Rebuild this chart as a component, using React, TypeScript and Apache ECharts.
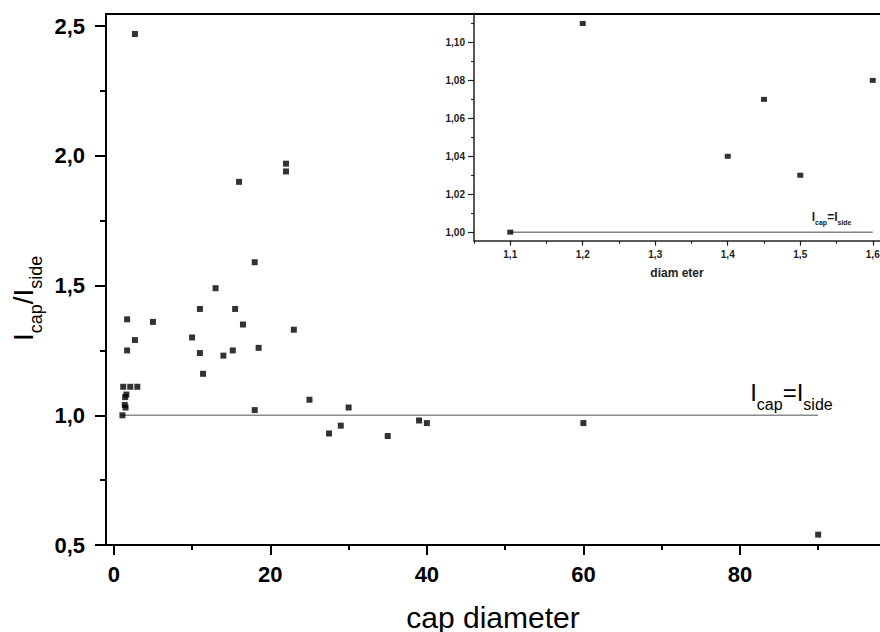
import React, { useEffect, useRef } from 'react';
import * as echarts from 'echarts';

// ---- data ----
// small caps (also shown in the inset)
const smallDiameter = [1.1, 1.2, 1.4, 1.45, 1.5, 1.6];
const smallRatio = [1.0, 1.11, 1.04, 1.07, 1.03, 1.08];
// remaining caps
const largeDiameter = [2.1, 3, 1.7, 1.7, 2.7, 2.7, 5, 10, 11, 11, 11.4, 13, 14, 15.2, 15.5, 16, 16.5, 18, 18, 18.5, 22, 22, 23, 25, 27.5, 29, 30, 35, 39, 40, 60, 90];
const largeRatio = [1.11, 1.11, 1.37, 1.25, 1.29, 2.47, 1.36, 1.3, 1.41, 1.24, 1.16, 1.49, 1.23, 1.25, 1.41, 1.9, 1.35, 1.59, 1.02, 1.26, 1.97, 1.94, 1.33, 1.06, 0.93, 0.96, 1.03, 0.92, 0.98, 0.97, 0.97, 0.54];

// reference line Icap = Iside
const equalLineX = [1, 90];
const equalLineY = [1, 1];
const insetEqualLineX = [1.1, 1.6];
const insetEqualLineY = [1, 1];

// ticks
const mainXMajor = [0, 20, 40, 60, 80];
const mainXMinor = [10, 30, 50, 70, 90];
const mainYMajor = [0.5, 1.0, 1.5, 2.0, 2.5];
const mainYMinor = [0.75, 1.25, 1.75, 2.25];
const insetXMajor = [1.1, 1.2, 1.3, 1.4, 1.5, 1.6];
const insetXMinor = [1.05, 1.15, 1.25, 1.35, 1.45, 1.55];
const insetYMajor = [1.0, 1.02, 1.04, 1.06, 1.08, 1.1];
const insetYMinor = [1.01, 1.03, 1.05, 1.07, 1.09, 1.11];

const FONT = '"Liberation Sans", Arial, Helvetica, sans-serif';

export default function App() {
  const ref = useRef<HTMLDivElement>(null);
  useEffect(() => {
    document.body.style.margin = '0';
    const chart = echarts.init(ref.current!, null, { renderer: 'svg' });
    const comma = (d: number) => (v: number) => Number(v).toFixed(d).replace('.', ',');

    const mainRange = { x: [-1, 97.9], y: [0.5, 2.547] };
    const insetRange = { x: [1.05, 1.61], y: [0.9955, 1.115] };

    const hiddenLine = { show: false, onZero: false };
    const noLabel = { show: false };

    chart.setOption({
      animation: false,
      backgroundColor: '#fff',
      grid: [
        { left: 106, top: 14, right: 0, bottom: 87, containLabel: false, outerBoundsMode: 'none' },
        { left: 474, top: 14, right: 0, bottom: 391.3, containLabel: false, outerBoundsMode: 'none' },
      ],
      xAxis: [
        {
          gridIndex: 0, type: 'value', position: 'bottom', min: mainRange.x[0], max: mainRange.x[1],
          axisLine: { show: true, onZero: false, lineStyle: { color: '#000', width: 2 } },
          axisTick: { show: true, customValues: mainXMajor, length: 10, lineStyle: { color: '#000', width: 2 } },
          axisLabel: { customValues: mainXMajor, fontSize: 22, fontWeight: 'bold', fontFamily: FONT, color: '#000', margin: 18 },
          splitLine: { show: false },
          name: 'cap diameter', nameLocation: 'middle', nameGap: 57,
          nameTextStyle: { fontSize: 30, fontFamily: FONT, color: '#000' },
        },
        {
          gridIndex: 0, type: 'value', position: 'bottom', min: mainRange.x[0], max: mainRange.x[1],
          axisLine: hiddenLine,
          axisTick: { show: true, customValues: mainXMinor, length: 5, lineStyle: { color: '#000', width: 2 } },
          axisLabel: noLabel, splitLine: { show: false },
        },
        {
          gridIndex: 0, type: 'value', position: 'top', min: mainRange.x[0], max: mainRange.x[1],
          axisLine: { show: true, onZero: false, lineStyle: { color: '#000', width: 2 } },
          axisTick: { show: false }, axisLabel: noLabel, splitLine: { show: false },
        },
        {
          gridIndex: 1, type: 'value', position: 'bottom', min: insetRange.x[0], max: insetRange.x[1],
          axisLine: { show: true, onZero: false, lineStyle: { color: '#222', width: 1.5 } },
          axisTick: { show: true, customValues: insetXMajor, length: 5, lineStyle: { color: '#222', width: 1.2 } },
          axisLabel: { customValues: insetXMajor, formatter: comma(1), fontSize: 10, fontWeight: 'bold', fontFamily: FONT, color: '#222', margin: 9 },
          splitLine: { show: false },
          name: 'diam eter', nameLocation: 'middle', nameGap: 26,
          nameTextStyle: { fontSize: 12, fontWeight: 'bold', fontFamily: FONT, color: '#222' },
        },
        {
          gridIndex: 1, type: 'value', position: 'bottom', min: insetRange.x[0], max: insetRange.x[1],
          axisLine: hiddenLine,
          axisTick: { show: true, customValues: insetXMinor, length: 3, lineStyle: { color: '#222', width: 1.2 } },
          axisLabel: noLabel, splitLine: { show: false },
        },
      ],
      yAxis: [
        {
          gridIndex: 0, type: 'value', position: 'left', min: mainRange.y[0], max: mainRange.y[1],
          axisLine: { show: true, onZero: false, lineStyle: { color: '#000', width: 2 } },
          axisTick: { show: true, customValues: mainYMajor, length: 11, lineStyle: { color: '#000', width: 2 } },
          axisLabel: { customValues: mainYMajor, formatter: comma(1), fontSize: 22, fontWeight: 'bold', fontFamily: FONT, color: '#000', margin: 21 },
          splitLine: { show: false },
        },
        {
          gridIndex: 0, type: 'value', position: 'left', min: mainRange.y[0], max: mainRange.y[1],
          axisLine: hiddenLine,
          axisTick: { show: true, customValues: mainYMinor, length: 6, lineStyle: { color: '#000', width: 2 } },
          axisLabel: noLabel, splitLine: { show: false },
        },
        {
          gridIndex: 1, type: 'value', position: 'left', min: insetRange.y[0], max: insetRange.y[1],
          axisLine: { show: true, onZero: false, lineStyle: { color: '#222', width: 1.5 } },
          axisTick: { show: true, customValues: insetYMajor, length: 6, lineStyle: { color: '#222', width: 1.2 } },
          axisLabel: { customValues: insetYMajor, formatter: comma(2), fontSize: 10, fontWeight: 'bold', fontFamily: FONT, color: '#222', margin: 9 },
          splitLine: { show: false },
        },
        {
          gridIndex: 1, type: 'value', position: 'left', min: insetRange.y[0], max: insetRange.y[1],
          axisLine: hiddenLine,
          axisTick: { show: true, customValues: insetYMinor, length: 3, lineStyle: { color: '#222', width: 1.2 } },
          axisLabel: noLabel, splitLine: { show: false },
        },
      ],
      series: [
        {
          type: 'line', xAxisIndex: 0, yAxisIndex: 0, symbol: 'none', silent: true,
          data: equalLineX.map((x, i) => [x, equalLineY[i]]),
          lineStyle: { color: '#8a8a8a', width: 1.5 }, z: 1,
        },
        {
          type: 'scatter', xAxisIndex: 0, yAxisIndex: 0, symbol: 'rect', symbolSize: 6,
          itemStyle: { color: '#000' }, z: 3,
          data: smallDiameter.concat(largeDiameter).map((x, i) => [x, smallRatio.concat(largeRatio)[i]]),
        },
        {
          type: 'line', xAxisIndex: 3, yAxisIndex: 2, symbol: 'none', silent: true,
          data: insetEqualLineX.map((x, i) => [x, insetEqualLineY[i]]),
          lineStyle: { color: '#444', width: 1 }, z: 1,
        },
        {
          type: 'scatter', xAxisIndex: 3, yAxisIndex: 2, symbol: 'rect', symbolSize: [6, 5],
          itemStyle: { color: '#000' }, z: 3,
          data: smallDiameter.map((x, i) => [x, smallRatio[i]]),
        },
      ],
    });

    // text with subscripts, built from measured pieces
    const ctx = document.createElement('canvas').getContext('2d')!;
    const measure = (t: string, size: number, weight: string) => {
      ctx.font = `${weight} ${size}px "Liberation Sans"`;
      return ctx.measureText(t).width;
    };
    type Part = { t: string; sub?: boolean };
    const subText = (parts: Part[], x0: number, baseline: number, F: number, S: number, weight: string, fill: string, drop: number) => {
      let x = x0;
      const els: any[] = [];
      for (const p of parts) {
        const size = p.sub ? S : F;
        const by = baseline + (p.sub ? drop : 0);
        els.push({
          type: 'text', x, y: by - 0.35 * size, silent: true,
          style: {
            text: p.t, fontSize: size, fontFamily: FONT, fontWeight: weight, fill,
            textAlign: 'left', align: 'left', textVerticalAlign: 'middle', verticalAlign: 'middle',
          },
        });
        x += measure(p.t, size, weight);
      }
      return els;
    };
    const eqParts: Part[] = [{ t: 'I' }, { t: 'cap', sub: true }, { t: '=I' }, { t: 'side', sub: true }];
    const titleParts: Part[] = [{ t: 'I' }, { t: 'cap', sub: true }, { t: '/I' }, { t: 'side', sub: true }];

    const pMain = chart.convertToPixel({ xAxisIndex: 0, yAxisIndex: 0 }, [equalLineX[1], equalLineY[1]]) as number[];
    const pInset = chart.convertToPixel({ xAxisIndex: 3, yAxisIndex: 2 }, [insetEqualLineX[1], insetEqualLineY[1]]) as number[];

    chart.setOption({
      graphic: [
        {
          type: 'group', x: 33, y: 341, rotation: Math.PI / 2, silent: true,
          children: subText(titleParts, 0, 0, 28, 18, 'normal', '#000', 9.5),
        },
        ...subText(eqParts, pMain[0] - 68, pMain[1] - 14, 24, 16, 'normal', '#000', 9),
        ...subText(eqParts, pInset[0] - 61, pInset[1] - 11, 12, 7, 'bold', '#222', 3.5),
      ],
    });

    return () => chart.dispose();
  }, []);
  return <div ref={ref} style={{ width: 880, height: 632 }} />;
}
